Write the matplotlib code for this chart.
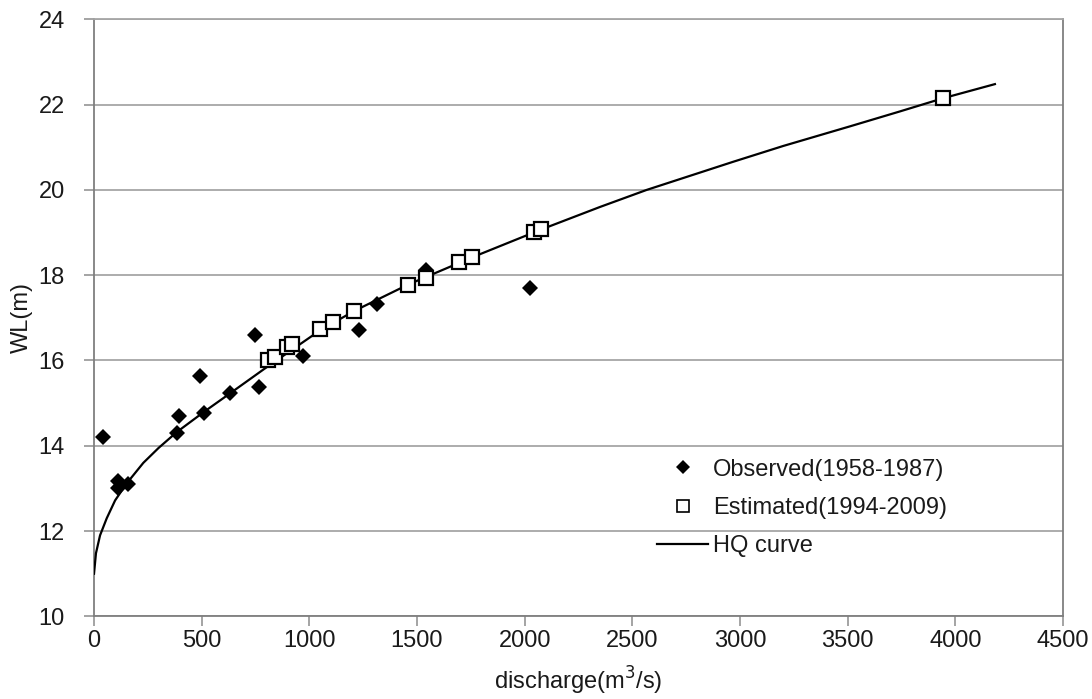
import numpy as np
import matplotlib
matplotlib.use('Agg')
import matplotlib.pyplot as plt
from matplotlib.lines import Line2D

plt.rcParams['font.family'] = ['Liberation Sans', 'DejaVu Sans']

# Observed stage-discharge pairs (1958-1987)
obs_q = [43, 110, 112, 158, 384, 396, 492, 512, 632, 748, 767, 971, 1231, 1316, 1540, 2023]
obs_wl = [14.21, 13.18, 13.01, 13.10, 14.29, 14.71, 15.64, 14.77, 15.23, 16.60, 15.38,
          16.10, 16.71, 17.32, 18.13, 17.71]

# Estimated pairs (1994-2009)
est_q = [808, 840, 895, 918, 1048, 1110, 1208, 1459, 1540, 1695, 1757, 2043, 2077, 3941]
est_wl = [16.02, 16.09, 16.31, 16.38, 16.73, 16.91, 17.16, 17.78, 17.94, 18.31, 18.42,
          19.02, 19.08, 22.15]

# HQ rating curve
curve_q = [0, 9, 28, 59, 98, 152, 229, 300, 384, 512, 632, 790, 1048, 1208, 1459, 1757,
           2071, 2350, 2567, 2969, 3201, 3511, 3743, 3944, 4184]
curve_wl = [11.00, 11.48, 11.90, 12.30, 12.72, 13.12, 13.60, 13.95, 14.32, 14.80, 15.23,
            15.80, 16.70, 17.16, 17.78, 18.42, 19.06, 19.60, 20.00, 20.66, 21.03, 21.49,
            21.84, 22.15, 22.48]

x_ticks = np.arange(0, 4501, 500)
y_ticks = np.arange(10, 25, 2)

fig = plt.figure(figsize=(10.92, 6.99), dpi=100)
ax = fig.add_axes([0.0861, 0.1182, 0.8873, 0.8542])

ax.plot(curve_q, curve_wl, '-', color='black', lw=1.6, zorder=3)
ax.plot(obs_q, obs_wl, 'D', color='black', ms=8.5, mew=0, zorder=4)
ax.plot(est_q, est_wl, 's', mfc='white', mec='black', mew=1.6, ms=10.5, zorder=5)

ax.set_xlim(0, 4500)
ax.set_ylim(10, 24)
ax.set_xticks(x_ticks)
ax.set_yticks(y_ticks)
ax.yaxis.grid(True, color='#a6a6a6', lw=1.3)
ax.set_axisbelow(True)

for s in ['left', 'right', 'top', 'bottom']:
    ax.spines[s].set_color('#7f7f7f')
    ax.spines[s].set_linewidth(1.3)
ax.spines['top'].set_color('#a6a6a6')

ax.tick_params(axis='both', direction='out', length=7, width=1.1, color='#8c8c8c',
               labelsize=17, labelcolor='#1a1a1a')
ax.tick_params(axis='x', pad=3)
ax.tick_params(axis='y', pad=14)

ax.set_xlabel('discharge(m$^3$/s)', fontsize=17, color='#1a1a1a', labelpad=9)
ax.set_ylabel('WL(m)', fontsize=17, color='#1a1a1a', labelpad=4)

handles = [
    Line2D([], [], ls='none', marker='D', color='black', ms=7, mew=0),
    Line2D([], [], ls='none', marker='s', mfc='white', mec='black', mew=1.2, ms=8),
    Line2D([], [], ls='-', color='black', lw=1.6),
]
labels = ['Observed(1958-1987)', 'Estimated(1994-2009)', 'HQ curve']
ax.legend(handles, labels, loc='upper left', bbox_to_anchor=(0.5596, 0.300),
          frameon=False, fontsize=17, handlelength=2.16, handletextpad=0.2,
          labelspacing=0.69, labelcolor='#1a1a1a')

fig.savefig('out.png', dpi=100)
